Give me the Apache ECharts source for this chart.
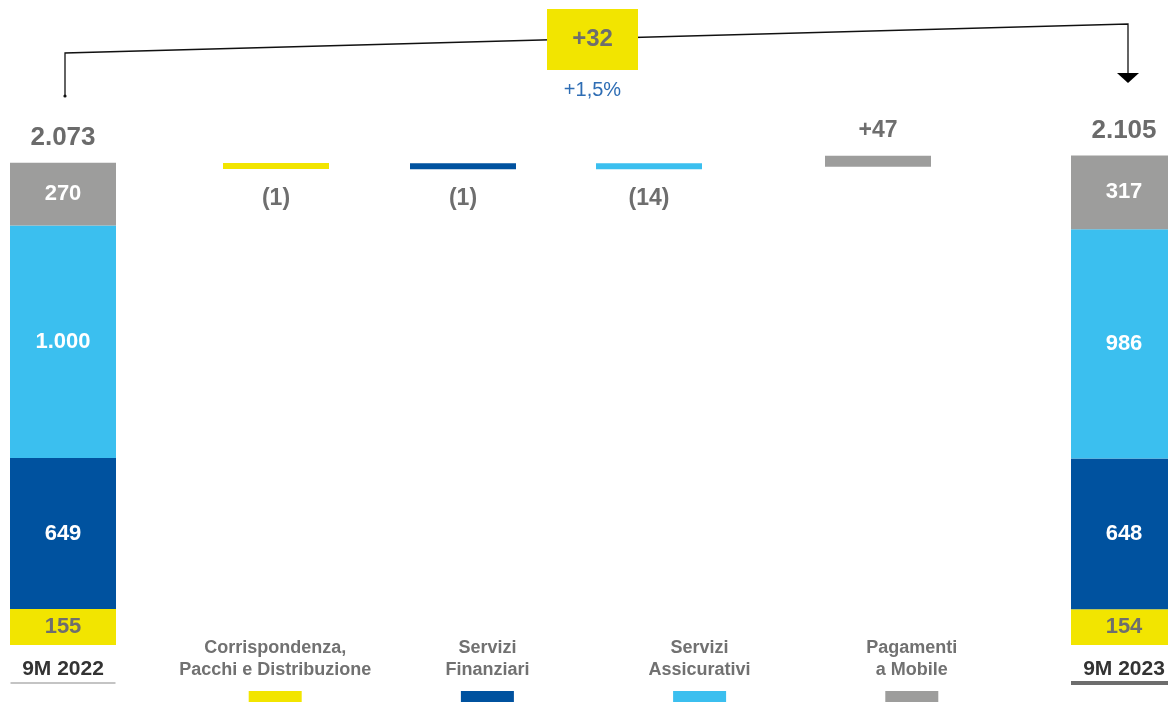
<!DOCTYPE html>
<html lang="it">
<head>
<meta charset="UTF-8">
<script src="https://cdn.jsdelivr.net/npm/echarts@6/dist/echarts.min.js"></script>
<style>html,body{margin:0;padding:0;background:#fff}#main{width:1168px;height:703px}</style>
</head>
<body>
<div id="main"></div>
<script>
var categories = ['9M 2022', 'Corrispondenza,\nPacchi e Distribuzione', 'Servizi\nFinanziari', 'Servizi\nAssicurativi', 'Pagamenti\na Mobile', '9M 2023'];
var segmentNames = ['Corrispondenza, Pacchi e Distribuzione', 'Servizi Finanziari', 'Servizi Assicurativi', 'Pagamenti a Mobile'];
var values2022 = [155, 649, 1000, 270];
var values2023 = [154, 648, 986, 317];
var deltas = [-1, -1, -14, 47];
var totals = [2073, 2105];

var colors = ['#f2e500', '#00529f', '#3bbfef', '#9d9d9c'];
var labelColors = ['#6e6e6e', '#fff', '#fff', '#fff'];
// left edge of each little delta grid (the markers are not evenly spaced)
var markerLeft = [223, 410, 596, 825];
var TOP = 145, H = 500, YMAX = 2150;

function fmt(v) {
  return String(Math.abs(v)).replace(/\B(?=(\d{3})+(?!\d))/g, '.');
}

var chart = echarts.init(document.getElementById('main'));

var grids = [{left: -43.1, width: 1273.2, top: TOP, height: H, outerBoundsMode: 'none'}];
var xAxes = [{
  type: 'category', gridIndex: 0, data: categories,
  axisLine: {show: false}, axisTick: {show: false},
  axisLabel: {
    interval: 0, margin: -8,
    formatter: function (v, i) {
      if (i === 0 || i === 5) return '{gap|}\n{end|' + v + '}\n{ul' + i + '|}';
      return v.split('\n').map(function (l) { return '{cat|' + l + '}'; }).join('\n') + '\n{sw' + (i - 1) + '|}';
    },
    rich: {
      gap: {lineHeight: 21, height: 21},
      end: {fontSize: 21, fontWeight: 'bold', color: '#333', lineHeight: 22},
      ul0: {width: 105, height: 1, backgroundColor: '#8a8a8a', lineHeight: 6},
      ul5: {width: 106, height: 4, backgroundColor: '#6d6d6d', lineHeight: 6},
      cat: {fontSize: 18, fontWeight: 'bold', color: '#717171', lineHeight: 22},
      sw0: {width: 53, height: 11, backgroundColor: colors[0], lineHeight: 31},
      sw1: {width: 53, height: 11, backgroundColor: colors[1], lineHeight: 31},
      sw2: {width: 53, height: 11, backgroundColor: colors[2], lineHeight: 31},
      sw3: {width: 53, height: 11, backgroundColor: colors[3], lineHeight: 31}
    }
  }
}];
var yAxes = [{type: 'value', gridIndex: 0, min: 0, max: YMAX, show: false}];
var series = [];

for (var i = 0; i < 4; i++) {
  series.push({
    name: segmentNames[i], type: 'bar', stack: 'tot', barWidth: 106,
    xAxisIndex: 0, yAxisIndex: 0, silent: true,
    data: [values2022[i], '-', '-', '-', '-', values2023[i]],
    itemStyle: {color: colors[i]},
    label: {
      show: true, position: 'inside', color: labelColors[i],
      fontSize: 22, fontWeight: 'bold',
      formatter: function (p) { return fmt(p.value); }
    }
  });
}
series.push({
  type: 'scatter', xAxisIndex: 0, yAxisIndex: 0, symbolSize: 0, silent: true,
  data: [[0, totals[0]], [5, totals[1]]],
  itemStyle: {opacity: 1},
  label: {
    show: true, position: 'top', distance: 12, color: '#6b6b6b',
    fontSize: 26, fontWeight: 'bold',
    formatter: function (p) { return fmt(p.value[1]); }
  }
});

var level = totals[0];
for (var k = 0; k < 4; k++) {
  var g = k + 1;
  grids.push({left: markerLeft[k], width: 106, top: TOP, height: H, outerBoundsMode: 'none'});
  xAxes.push({type: 'category', gridIndex: g, data: [segmentNames[k]], show: false});
  yAxes.push({type: 'value', gridIndex: g, min: 0, max: YMAX, show: false});
  series.push({
    type: 'bar', stack: 'w' + g, stackStrategy: 'all', xAxisIndex: g, yAxisIndex: g,
    barWidth: 106, silent: true, data: [level],
    itemStyle: {color: 'transparent'}
  });
  series.push({
    type: 'bar', stack: 'w' + g, stackStrategy: 'all', xAxisIndex: g, yAxisIndex: g,
    barWidth: 106, barMinHeight: 6, silent: true, data: [deltas[k]],
    itemStyle: {color: colors[k]},
    label: {
      show: true, position: deltas[k] < 0 ? 'bottom' : 'top',
      distance: deltas[k] < 0 ? 18 : 14,
      color: '#6e6e6e', fontSize: 23, fontWeight: 'bold',
      formatter: function (p) { return p.value < 0 ? '(' + fmt(p.value) + ')' : '+' + fmt(p.value); }
    }
  });
  level += deltas[k];
}

var diff = totals[1] - totals[0];
var pct = (diff / totals[0] * 100).toFixed(1).replace('.', ',');

chart.setOption({
  animation: false,
  textStyle: {fontFamily: 'Liberation Sans, Arial, sans-serif'},
  grid: grids,
  xAxis: xAxes,
  yAxis: yAxes,
  series: series,
  graphic: [
    {type: 'polyline', shape: {points: [[65, 96], [65, 53], [1128, 24], [1128, 75]]},
      style: {stroke: '#111', lineWidth: 1.3, fill: null}, z: 1},
    {type: 'circle', shape: {cx: 65, cy: 96, r: 1.6}, style: {fill: '#111'}, z: 1},
    {type: 'polygon', shape: {points: [[1117, 73], [1139, 73], [1128, 83]]}, style: {fill: '#000'}, z: 1},
    {type: 'rect', shape: {x: 547, y: 9, width: 91, height: 61}, style: {fill: colors[0]}, z: 2},
    {type: 'text', x: 592.5, y: 39.5, z: 3,
      style: {text: (diff > 0 ? '+' : '') + diff, fill: '#6e6e6e', font: 'bold 24px Liberation Sans, Arial, sans-serif',
        align: 'center', verticalAlign: 'middle'}},
    {type: 'text', x: 592.5, y: 90, z: 3,
      style: {text: (diff > 0 ? '+' : '') + pct + '%', fill: '#2e6db4', font: '20px Liberation Sans, Arial, sans-serif',
        align: 'center', verticalAlign: 'middle'}}
  ]
});
</script>
</body>
</html>
